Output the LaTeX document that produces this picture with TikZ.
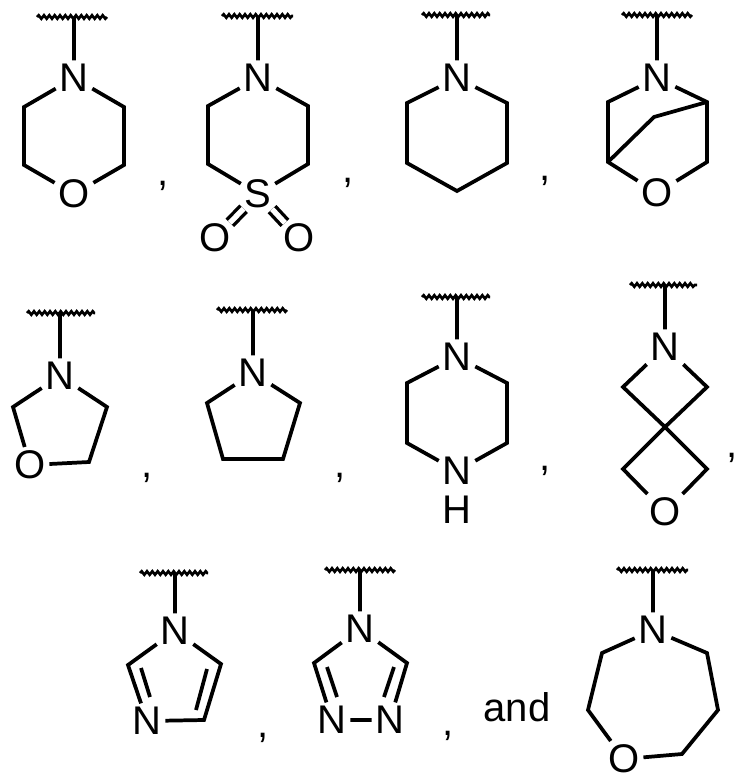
\documentclass[tikz,border=0pt]{standalone}
\usepackage{fontspec}
\setmainfont{Liberation Sans}
\usetikzlibrary{decorations.pathmorphing}
\begin{document}
\begin{tikzpicture}[x=0.75pt,y=-0.75pt,line width=2.8pt,
  atom/.style={inner sep=1.5pt,font=\fontsize{30}{30}\selectfont},
  txt/.style={inner sep=0pt,font=\fontsize{30}{30}\selectfont},
  wavy/.style={line width=2pt,decorate,decoration={snake,segment length=4pt,amplitude=1.3pt}},
  dbl/.style={double,double distance=4pt,line width=2.5pt,shorten <=-3pt,shorten >=-3pt}]
\useasboundingbox (0,0) rectangle (743,783);
% 1 morpholine
\coordinate (w1a) at (37,17); \coordinate (w1b) at (107,17); \coordinate (w1c) at (74,17);
\node[atom] (n1) at (74,78) {N};
\coordinate (a1) at (24,107); \coordinate (b1) at (24,165);
\node[atom] (o1) at (74,194) {O};
\coordinate (c1) at (124,165); \coordinate (d1) at (124,107);
\draw[wavy] (w1a)--(w1b);
\draw (w1c)--(n1) (n1)--(a1)--(b1)--(o1) (o1)--(c1)--(d1)--(n1);
\node[txt] (k1) at (163,186) {,};
% 2 thiomorpholine dioxide
\coordinate (w2a) at (222,16); \coordinate (w2b) at (293,16); \coordinate (w2c) at (258,16);
\node[atom] (n2) at (258,78) {N};
\coordinate (a2) at (208,106); \coordinate (b2) at (208,164);
\node[atom] (s2) at (258,194) {S};
\coordinate (c2) at (308,164); \coordinate (d2) at (308,106);
\node[atom] (o2a) at (215,238) {O};
\node[atom] (o2b) at (299,238) {O};
\draw[wavy] (w2a)--(w2b);
\draw (w2c)--(n2) (n2)--(a2)--(b2)--(s2) (s2)--(c2)--(d2)--(n2);
\draw[dbl] (s2)--(o2a); \draw[dbl] (s2)--(o2b);
\node[txt] (k2) at (348,183) {,};
% 3 piperidine
\coordinate (w3a) at (422,15); \coordinate (w3b) at (490,15); \coordinate (w3c) at (457,15);
\node[atom] (n3) at (457,78) {N};
\coordinate (a3) at (407,103); \coordinate (b3) at (407,163); \coordinate (e3) at (457,191);
\coordinate (c3) at (507,163); \coordinate (d3) at (507,103);
\draw[wavy] (w3a)--(w3b);
\draw (w3c)--(n3) (n3)--(a3)--(b3)--(e3)--(c3)--(d3)--(n3);
\node[txt] (k3) at (545,181) {,};
% 4 bicyclic
\coordinate (w4a) at (622,15); \coordinate (w4b) at (692,15); \coordinate (w4c) at (657,15);
\node[atom] (n4) at (657,78) {N};
\coordinate (a4) at (608,102); \coordinate (b4) at (608,162);
\node[atom] (o4) at (657,193) {O};
\coordinate (c4) at (707,162); \coordinate (d4) at (707,102); \coordinate (m4) at (654,117);
\draw[wavy] (w4a)--(w4b);
\draw (w4c)--(n4) (n4)--(a4)--(b4)--(o4) (o4)--(c4)--(d4)--(n4);
\draw (b4)--(m4)--(d4);
% 5 oxazolidine
\coordinate (w5a) at (27,313); \coordinate (w5b) at (95,313); \coordinate (w5c) at (60,313);
\node[atom] (n5) at (60,376) {N};
\coordinate (a5) at (13,407);
\node[atom] (o5) at (30,465) {O};
\coordinate (c5) at (89,462); \coordinate (d5) at (107,407);
\draw[wavy] (w5a)--(w5b);
\draw (w5c)--(n5) (n5)--(a5)--(o5) (o5)--(c5)--(d5)--(n5);
\node[txt] (k5) at (147,478) {,};
% 6 pyrrolidine
\coordinate (w6a) at (217,310); \coordinate (w6b) at (287,310); \coordinate (w6c) at (253,310);
\node[atom] (n6) at (253,373) {N};
\coordinate (a6) at (207,403); \coordinate (b6) at (223,459);
\coordinate (c6) at (283,459); \coordinate (d6) at (300,403);
\draw[wavy] (w6a)--(w6b);
\draw (w6c)--(n6) (n6)--(a6)--(b6)--(c6)--(d6)--(n6);
\node[txt] (k6) at (340,478) {,};
% 7 piperazine
\coordinate (w7a) at (422,297); \coordinate (w7b) at (490,297); \coordinate (w7c) at (457,297);
\node[atom] (n7) at (457,357) {N};
\coordinate (a7) at (407,383); \coordinate (b7) at (407,443);
\node[atom] (n7b) at (457,471) {N};
\node[atom] (h7) at (457,510) {H};
\coordinate (c7) at (507,443); \coordinate (d7) at (507,383);
\draw[wavy] (w7a)--(w7b);
\draw (w7c)--(n7) (n7)--(a7)--(b7)--(n7b) (n7b)--(c7)--(d7)--(n7);
\node[txt] (k7) at (545,471) {,};
% 8 spiro
\coordinate (w8a) at (630,285); \coordinate (w8b) at (697,285); \coordinate (w8c) at (665,285);
\node[atom] (n8) at (665,347) {N};
\coordinate (a8) at (623,387); \coordinate (s8) at (665,427); \coordinate (d8) at (707,387);
\coordinate (b8) at (623,469); \coordinate (c8) at (707,469);
\node[atom] (o8) at (665,512) {O};
\draw[wavy] (w8a)--(w8b);
\draw (w8c)--(n8) (n8)--(a8)--(s8)--(d8)--(n8) (s8)--(b8)--(o8) (o8)--(c8)--(s8);
\node[txt] (k8) at (732,458) {,};
% 9 imidazole
\coordinate (w9a) at (140,573); \coordinate (w9b) at (208,573); \coordinate (w9c) at (175,573);
\node[atom] (n9) at (175,631) {N};
\coordinate (a9) at (128,665);
\node[atom] (n9b) at (147,721) {N};
\coordinate (c9) at (204,720); \coordinate (d9) at (221,664);
\coordinate (p9a) at (141,668); \coordinate (p9b) at (150,697);
\coordinate (q9a) at (207,669); \coordinate (q9b) at (196,710);
\draw[wavy] (w9a)--(w9b);
\draw (w9c)--(n9) (n9)--(a9)--(n9b) (n9b)--(c9)--(d9)--(n9);
\draw (p9a)--(p9b) (q9a)--(q9b);
\node[txt] (k9) at (263,738) {,};
% 10 triazole
\coordinate (w10a) at (325,570); \coordinate (w10b) at (395,570); \coordinate (w10c) at (360,570);
\node[atom] (n10) at (360,629) {N};
\coordinate (a10) at (314,663);
\node[atom] (n10b) at (332,720) {N};
\node[atom] (n10c) at (390,720) {N};
\coordinate (d10) at (407,663);
\coordinate (p10a) at (327,667); \coordinate (p10b) at (337,697);
\coordinate (q10a) at (394,667); \coordinate (q10b) at (384,697);
\draw[wavy] (w10a)--(w10b);
\draw (w10c)--(n10) (n10)--(a10)--(n10b) (n10b)--(n10c) (n10c)--(d10)--(n10);
\draw (p10a)--(p10b) (q10a)--(q10b);
\node[txt] (k10) at (448,736) {,};
% and
\node[txt] (and) at (517,707) {and};
% 11 homomorpholine
\coordinate (w11a) at (617,570); \coordinate (w11b) at (688,570); \coordinate (w11c) at (653,570);
\node[atom] (n11) at (653,630) {N};
\coordinate (a11) at (602,653); \coordinate (b11) at (588,710);
\node[atom] (o11) at (624,759) {O};
\coordinate (c11) at (682,754); \coordinate (e11) at (718,710); \coordinate (d11) at (707,653);
\draw[wavy] (w11a)--(w11b);
\draw (w11c)--(n11) (n11)--(a11)--(b11)--(o11) (o11)--(c11)--(e11)--(d11)--(n11);
\end{tikzpicture}
\end{document}
